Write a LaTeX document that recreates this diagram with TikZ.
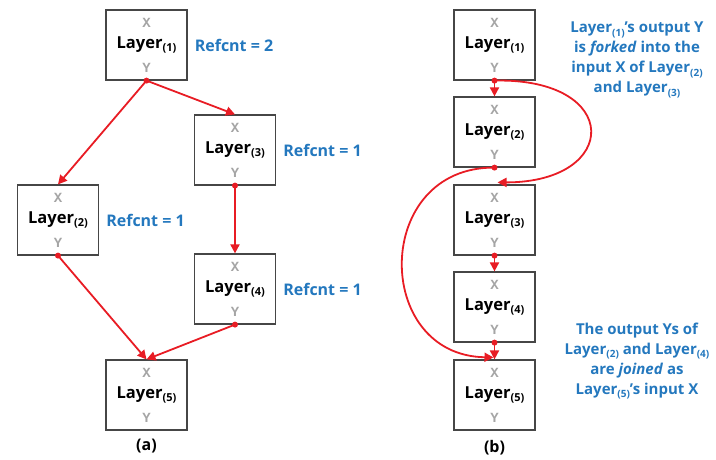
\documentclass[tikz,border=0pt]{standalone}
\usepackage{fontspec}
\setmainfont{Open Sans}
\newfontfamily\monofam{Liberation Mono}
\usetikzlibrary{arrows.meta}

\definecolor{edgered}{RGB}{232,28,36}
\definecolor{noteblue}{RGB}{36,120,190}
\definecolor{portgray}{RGB}{165,165,165}
\definecolor{boxline}{RGB}{70,70,70}

% layer name with a lowered index
\newcommand{\lay}[1]{Layer\raisebox{-3.5pt}{\fontsize{11}{11}\selectfont(#1)}}
\newcommand{\sub}[1]{\raisebox{-3.5pt}{\fontsize{10}{10}\selectfont(#1)}}

\tikzset{
  layerbox/.style={draw=boxline, line width=1.2pt, minimum width=81pt,
    minimum height=70pt, inner sep=0pt, fill=white,
    font=\bfseries\fontsize{16.5}{16.5}\selectfont},
  port/.style={text=portgray, inner sep=0pt, font=\monofam\bfseries\fontsize{14}{14}\selectfont},
  flow/.style={draw=edgered, line width=1.8pt, -{Triangle[length=9pt,width=9pt]}},
  refcnt/.style={anchor=west, text=noteblue, inner sep=0pt,
    font=\bfseries\fontsize{16}{16}\selectfont},
  note/.style={text=noteblue, align=center, inner sep=0pt,
    font=\bfseries\fontsize{15}{20}\selectfont},
  caption/.style={inner sep=0pt, font=\bfseries\fontsize{16}{16}\selectfont}
}

% a layer box with its input X and output Y marks
\newcommand{\layerbox}[3]{%
  \node[layerbox] (#1) at #2 {\lay{#3}};
  \node[port] (#1x) at ([yshift=-13pt]#1.north) {X};
  \node[port] (#1y) at ([yshift=13pt]#1.south) {Y};
}
\newcommand{\outdot}[1]{\fill[edgered] (#1.south) circle (3pt);}

\begin{document}
\begin{tikzpicture}[x=1pt,y=-1pt]
\useasboundingbox (0,0) rectangle (716,460);

% ---------- (a) reference counts ----------
\layerbox{a1}{(146.5,45)}{1}
\layerbox{a3}{(235,150)}{3}
\layerbox{a2}{(58,220)}{2}
\layerbox{a4}{(235,289)}{4}
\layerbox{a5}{(146.5,395)}{5}

\draw[flow] (a1.south) -- (a2.north);
\draw[flow] (a1.south) -- (a3.north);
\draw[flow] (a3.south) -- (a4.north);
\draw[flow] (a2.south) -- (a5.north);
\draw[flow] (a4.south) -- (a5.north);
\outdot{a1}\outdot{a2}\outdot{a3}\outdot{a4}

\node[refcnt] (r1) at ([xshift=7pt]a1.east) {Refcnt = 2};
\node[refcnt] (r3) at ([xshift=7pt]a3.east) {Refcnt = 1};
\node[refcnt] (r2) at ([xshift=7pt]a2.east) {Refcnt = 1};
\node[refcnt] (r4) at ([xshift=7pt]a4.east) {Refcnt = 1};

\node[caption] (capa) at (146.5,446) {(a)};

% ---------- (b) fork and join ----------
\layerbox{b1}{(494.5,45)}{1}
\layerbox{b2}{(494.5,132)}{2}
\layerbox{b3}{(494.5,220)}{3}
\layerbox{b4}{(494.5,307)}{4}
\layerbox{b5}{(494.5,395)}{5}

\draw[flow] (b1.south) -- (b2.north);
\draw[flow] (b3.south) -- (b4.north);
\draw[flow] (b4.south) -- (b5.north);
\draw[flow] (b1.south) .. controls ([xshift=128pt,yshift=3pt]b1.south)
  and ([xshift=126pt,yshift=2pt]b3.north) .. ([xshift=3pt,yshift=2pt]b3.north);
\draw[flow] (b2.south) .. controls ([xshift=-122pt,yshift=1pt]b2.south)
  and ([xshift=-122pt,yshift=4pt]b5.north) .. ([xshift=-1pt,yshift=2pt]b5.north);
\outdot{b1}\outdot{b2}\outdot{b3}\outdot{b4}

\node[note] (fork) at (637,60)
  {Layer\sub{1}’s output Y\\ is \textit{forked} into the\\ input X of Layer\sub{2}\\ and Layer\sub{3}};
\node[note] (join) at (637,361)
  {The output Ys of\\ Layer\sub{2} and Layer\sub{4}\\ are \textit{joined} as\\ Layer\sub{5}’s input X};

\node[caption] (capb) at (494.5,448) {(b)};
\end{tikzpicture}
\end{document}
